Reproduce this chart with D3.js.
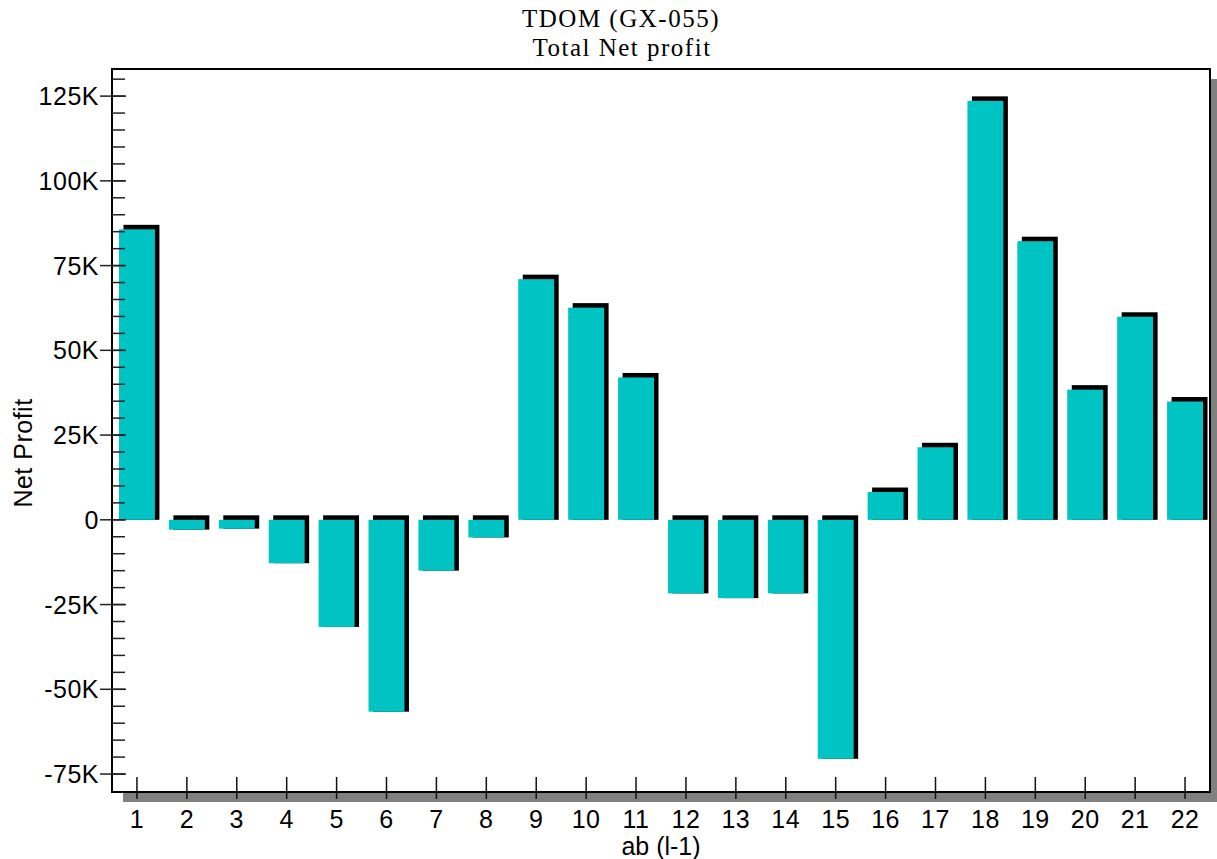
<!DOCTYPE html>
<html>
<head>
<meta charset="utf-8">
<script src="https://cdn.jsdelivr.net/npm/d3@7"></script>
<style>
  body { margin: 0; background: #fff; }
  text { font-family: "Liberation Sans", Arial, sans-serif; fill: #000; }
  .title { font-family: "Liberation Serif", "Times New Roman", serif; font-size: 25px; letter-spacing: 1.5px; }
</style>
</head>
<body>
<div id="chart"></div>
<script>
const width = 1217;
const height = 859;
// plot frame
const plot_left = 112, plot_right = 1210, plot_top = 69, plot_bottom = 792;

const bar_color = "#00c3c3";
const depth = 4.5;

// data (thousands)
const categories = d3.range(1, 23).map(String);
const net_profit = [85.7, -2.9, -2.6, -12.8, -31.6, -56.6, -15.0, -5.2, 71.0, 62.6, 42.0,
  -21.7, -23.1, -21.7, -70.5, 8.2, 21.4, 123.6, 82.2, 38.4, 59.9, 34.9];
const major_ticks = [-75, -50, -25, 0, 25, 50, 75, 100, 125];
const tick_labels = ["-75K", "-50K", "-25K", "0", "25K", "50K", "75K", "100K", "125K"];
const minor_ticks = d3.range(-75, 131, 5);

let svg = d3.select("#chart").append("svg")
  .attr("width", width)
  .attr("height", height);

let x = d3.scaleBand()
  .domain(categories)
  .range([plot_left, plot_right])
  .paddingInner(0.28)
  .paddingOuter(0.14);

let y = d3.scaleLinear()
  .domain([-80.3, 133])
  .range([plot_bottom, plot_top]);

// title
svg.append("text").attr("class", "title")
  .attr("x", 621).attr("y", 27)
  .attr("text-anchor", "middle")
  .text("TDOM (GX-055)");
svg.append("text").attr("class", "title")
  .attr("x", 622).attr("y", 56)
  .attr("text-anchor", "middle")
  .text("Total Net profit");

// drop shadow of the plot frame
svg.append("rect")
  .attr("x", plot_left + 11).attr("y", plot_top + 10)
  .attr("width", plot_right - plot_left).attr("height", plot_bottom - plot_top)
  .attr("fill", "#808080");
svg.append("rect")
  .attr("x", plot_left).attr("y", plot_top)
  .attr("width", plot_right - plot_left).attr("height", plot_bottom - plot_top)
  .attr("fill", "#fff")
  .attr("stroke", "#000")
  .attr("stroke-width", 2);

// bars: black depth piece behind, cyan face in front
let bars = svg.append("g");
bars.selectAll(".depth")
  .data(net_profit)
  .join("rect")
  .attr("class", "depth")
  .attr("x", (d, i) => x(categories[i]) + depth)
  .attr("y", d => Math.min(y(d), y(0)) - depth)
  .attr("width", x.bandwidth())
  .attr("height", d => Math.abs(y(d) - y(0)) + depth)
  .attr("fill", "#000");
bars.selectAll(".face")
  .data(net_profit)
  .join("rect")
  .attr("class", "face")
  .attr("x", (d, i) => x(categories[i]))
  .attr("y", d => Math.min(y(d), y(0)))
  .attr("width", x.bandwidth())
  .attr("height", d => Math.abs(y(d) - y(0)))
  .attr("fill", bar_color);

// y axis: minor ticks inward, major ticks crossing
let yaxis = svg.append("g");
yaxis.selectAll(".minor")
  .data(minor_ticks)
  .join("line")
  .attr("class", "minor")
  .attr("x1", plot_left).attr("x2", plot_left + 13)
  .attr("y1", d => y(d)).attr("y2", d => y(d))
  .attr("stroke", "#222").attr("stroke-width", 1.5);
yaxis.selectAll(".major")
  .data(major_ticks)
  .join("line")
  .attr("class", "major")
  .attr("x1", plot_left - 12).attr("x2", plot_left + 14)
  .attr("y1", d => y(d)).attr("y2", d => y(d))
  .attr("stroke", "#222").attr("stroke-width", 1.5);
yaxis.selectAll("text")
  .data(major_ticks)
  .join("text")
  .attr("x", plot_left - 13)
  .attr("y", d => y(d))
  .attr("dy", "0.36em")
  .attr("text-anchor", "end")
  .style("font-size", "25px")
  .style("letter-spacing", "0.5px")
  .text((d, i) => tick_labels[i]);

// x axis
let xaxis = svg.append("g");
xaxis.selectAll("line")
  .data(categories)
  .join("line")
  .attr("x1", d => x(d) + x.bandwidth() / 2)
  .attr("x2", d => x(d) + x.bandwidth() / 2)
  .attr("y1", plot_bottom - 15).attr("y2", plot_bottom + 7)
  .attr("stroke", "#111").attr("stroke-width", 1.5);
xaxis.selectAll("text")
  .data(categories)
  .join("text")
  .attr("x", d => x(d) + x.bandwidth() / 2)
  .attr("y", 828)
  .attr("text-anchor", "middle")
  .style("font-size", "25px")
  .style("letter-spacing", "0.5px")
  .text(d => d);

// axis titles
svg.append("text")
  .attr("x", 661).attr("y", 855)
  .attr("text-anchor", "middle")
  .style("font-size", "25px")
  .text("ab (l-1)");
svg.append("text")
  .attr("transform", "translate(32,453) rotate(-90)")
  .attr("text-anchor", "middle")
  .style("font-size", "25px")
  .style("letter-spacing", "0.5px")
  .text("Net Profit");
</script>
</body>
</html>
